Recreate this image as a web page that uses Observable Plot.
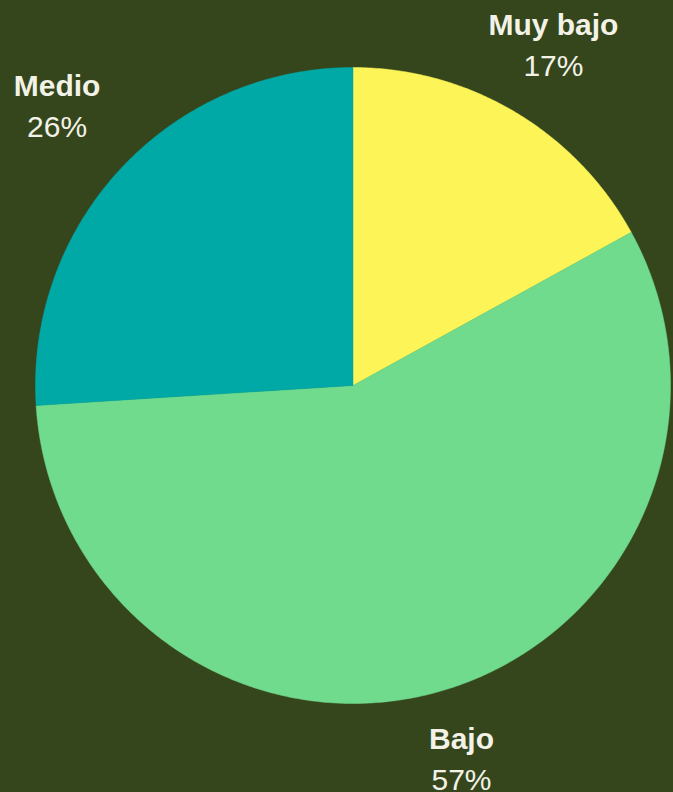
<!DOCTYPE html>
<html><head><meta charset="utf-8">
<script src="https://cdn.jsdelivr.net/npm/d3@7"></script>
<script src="https://cdn.jsdelivr.net/npm/@observablehq/plot@0.6"></script>
<style>
html,body{margin:0;padding:0;background:#35461d;}
</style></head>
<body><div id="chart"></div>
<script>
const categories = ["Muy bajo", "Bajo", "Medio"];
const values = [17, 57, 26];
const colors = ["#fdf457", "#70db8c", "#00a8a6"];

const W = 673, H = 792, mL = 35, mR = 3, mT = 67, mB = 89;
const rPx = (W - mL - mR) / 2;
const FS = 30, LINE = 41;
const font = "Liberation Sans, Arial, sans-serif";

const pie = d3.pie().sort(null).value(d => d.value)(categories.map((c, i) => ({category: c, value: values[i]})));
const arcPts = [];
pie.forEach(s => {
  arcPts.push({category: s.data.category, x: 0, y: 0});
  const n = Math.max(2, Math.ceil((s.endAngle - s.startAngle) * 120));
  for (let k = 0; k <= n; k++) {
    const a = s.startAngle + (s.endAngle - s.startAngle) * k / n;
    arcPts.push({category: s.data.category, x: Math.sin(a), y: Math.cos(a)});
  }
  arcPts.push({category: s.data.category, x: 0, y: 0});
});

const ctx = document.createElement("canvas").getContext("2d");
function tw(t, bold) { ctx.font = (bold ? "bold " : "") + FS + "px " + font; return ctx.measureText(t).width; }
const D = 1.09;
const labels = pie.map(s => {
  const a = (s.startAngle + s.endAngle) / 2;
  const sx = Math.sin(a), sy = Math.cos(a);
  const pct = s.data.value + "%";
  const hw = Math.max(tw(s.data.category, true), tw(pct, false)) / 2 + 2;
  const hh = LINE;
  const t = Math.min(hw / Math.max(Math.abs(sx), 1e-6), hh / Math.max(Math.abs(sy), 1e-6));
  return {category: s.data.category, pct,
    x: D * sx + t * sx / rPx, y: D * sy + t * sy / rPx};
});

const chart = Plot.plot({
  width: W, height: H,
  marginLeft: mL, marginRight: mR, marginTop: mT, marginBottom: mB,
  x: {domain: [-1, 1], axis: null},
  y: {domain: [-1, 1], axis: null},
  color: {domain: categories, range: colors},
  style: {background: "#35461d", fontFamily: font},
  marks: [
    Plot.line(arcPts, {x: "x", y: "y", z: "category", fill: "category", stroke: "category", strokeWidth: 0.5, curve: "linear"}),
    Plot.text(labels, {x: "x", y: "y", text: "category", dy: -LINE / 2, fontSize: FS, fontWeight: "bold", fill: "#f2f2e6"}),
    Plot.text(labels, {x: "x", y: "y", text: "pct", dy: LINE / 2, fontSize: FS, fill: "#f2f2e6"})
  ]
});
document.getElementById("chart").append(chart);
</script></body></html>
